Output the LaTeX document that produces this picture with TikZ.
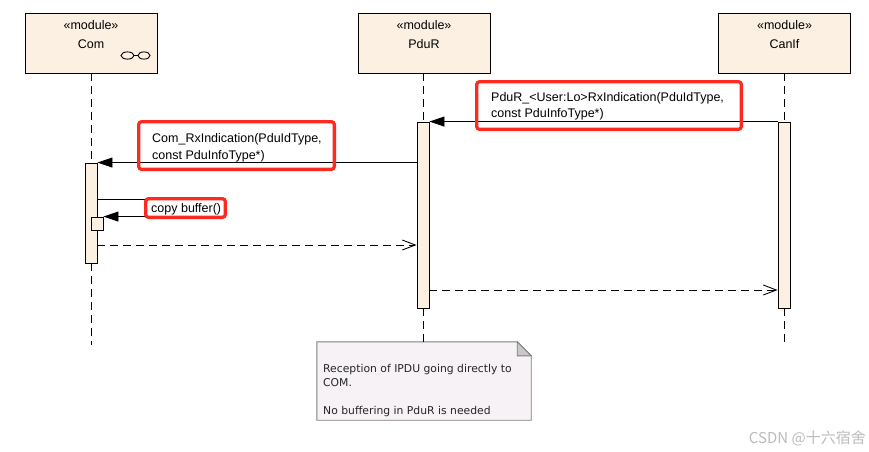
\documentclass[tikz,border=0pt]{standalone}
\usepackage{fontspec}
\setmainfont{Liberation Sans}
\newfontfamily\notefont{DejaVu Sans}
\newfontfamily\cjk{Noto Sans CJK SC}
\usetikzlibrary{arrows.meta,calc}
\definecolor{boxfill}{HTML}{FBF0E2}
\definecolor{notefill}{HTML}{F6F2F6}
\definecolor{notedraw}{HTML}{7F7F7F}
\definecolor{foldfill}{HTML}{C8C8C8}
\definecolor{hl}{HTML}{FF2A1F}
\definecolor{wm}{HTML}{BBBBBB}
\begin{document}
\begin{tikzpicture}[x=1pt,y=-1pt,
  module/.style={draw, fill=boxfill, line width=0.9pt, minimum width=132pt, minimum height=60pt, inner sep=0pt},
  act/.style={draw, fill=boxfill, line width=0.9pt, minimum width=12pt, inner sep=0pt},
  life/.style={line width=0.9pt, dash pattern=on 8pt off 5pt},
  msg/.style={line width=0.9pt, -{Triangle[length=15pt,width=10pt]}},
  plain/.style={line width=0.9pt},
  ret/.style={line width=0.9pt, dash pattern=on 8pt off 5pt, -{Straight Barb[length=13pt,width=10pt]}},
  hlbox/.style={draw=hl, line width=3.3pt, rounded corners=3pt, inner sep=0pt},
  txt/.style={font=\fontsize{12.5}{15}\selectfont, inner sep=0pt},
  lbl/.style={txt, anchor=base west},
  notetxt/.style={font=\notefont\fontsize{10.8}{14}\selectfont, inner sep=0pt, anchor=base west, text=black!85}]
\useasboundingbox (0,0) rectangle (869,451);

% modules
\node[module] (com) at (91,43) {};
\node[module] (pdur) at (424,43) {};
\node[module] (canif) at (784.5,43) {};
\node[txt, anchor=base] (comSt) at (91,29) {«module»};
\node[txt, anchor=base] (comNm) at (91,48) {Com};
\node[txt, anchor=base] (pdurSt) at (424,29) {«module»};
\node[txt, anchor=base] (pdurNm) at (424,48) {PduR};
\node[txt, anchor=base] (canifSt) at (784.5,29) {«module»};
\node[txt, anchor=base] (canifNm) at (784.5,48) {CanIf};
% icon in Com box
\draw[line width=0.9pt] (127.5,55.5) ellipse [x radius=6.5pt, y radius=3.6pt];
\draw[line width=0.9pt] (144,55.5) ellipse [x radius=6pt, y radius=3.6pt];
\draw[line width=0.9pt] (134,55.5) -- (138,55.5);

% activations
\node[act, minimum height=100pt] (comA) at (91,213) {};
\node[act, minimum height=186pt] (pdurA) at (423,215) {};
\node[act, minimum height=186pt] (canifA) at (784,215) {};
\node[act, minimum height=13pt] (comS) at (97,223.5) {};

% note
\node[minimum width=214pt, minimum height=78pt, inner sep=0pt] (note) at (424,381) {};
\draw[draw=notedraw, fill=notefill, line width=0.9pt]
  (note.north west) -- ($(note.north east)+(-14,0)$) -- ($(note.north east)+(0,14)$) -- (note.south east) -- (note.south west) -- cycle;
\draw[draw=notedraw, fill=foldfill, line width=0.9pt]
  ($(note.north east)+(-14,0)$) -- ($(note.north east)+(-14,14)$) -- ($(note.north east)+(0,14)$) -- cycle;
\node[notetxt] (n1) at (323,372) {Reception of IPDU going directly to};
\node[notetxt] (n2) at (323,386) {COM.};
\node[notetxt] (n3) at (323,414) {No buffering in PduR is needed};

% lifelines
\coordinate (comEnd) at (91,345);
\coordinate (canifEnd) at (784,345);
\draw[life] (com.south) -- (comA.north);
\draw[life] (comA.south) -- (comEnd);
\draw[life] (pdur.south -| pdurA) -- (pdurA.north);
\draw[life] (pdurA.south) -- (note.north -| pdurA);
\draw[life] (canif.south -| canifA) -- (canifA.north);
\draw[life] (canifA.south) -- (canifEnd);

% messages
\draw[msg] (canifA.north west) -- (pdurA.north east);
\draw[msg] (pdurA.west |- comA.north) -- (comA.north east);
\coordinate (selfR) at (146,199);
\draw[plain] (comA.east |- selfR) -- (selfR) -- (selfR |- comS.north);
\draw[msg] (selfR |- comS.north) -- (comS.north east);
\coordinate (r1) at (0,245);
\draw[ret] (comA.east |- r1) -- (pdurA.west |- r1);
\coordinate (r2) at (0,290);
\draw[ret] (pdurA.east |- r2) -- (canifA.west |- r2);

% labels
\node[lbl] (m1a) at (491,101) {PduR\_<User:Lo>RxIndication(PduIdType,};
\node[lbl] (m1b) at (491,117) {const PduInfoType*)};
\node[lbl] (m2a) at (152,142) {Com\_RxIndication(PduIdType,};
\node[lbl] (m2b) at (152,159) {const PduInfoType*)};
\node[lbl] (m3) at (151,212) {copy buffer()};

% highlight boxes
\node[hlbox, minimum width=264.7pt, minimum height=47.7pt] (h1) at (609,105.5) {};
\node[hlbox, minimum width=195.7pt, minimum height=47.7pt] (h2) at (236.5,145.5) {};
\node[hlbox, minimum width=79.7pt, minimum height=18.7pt] (h3) at (185.5,208) {};

% watermark
\node[font=\cjk\fontsize{15}{15}\selectfont, text=wm, inner sep=0pt, anchor=base east] (wmk) at (866,443) {CSDN @十六宿舍};
\end{tikzpicture}
\end{document}
